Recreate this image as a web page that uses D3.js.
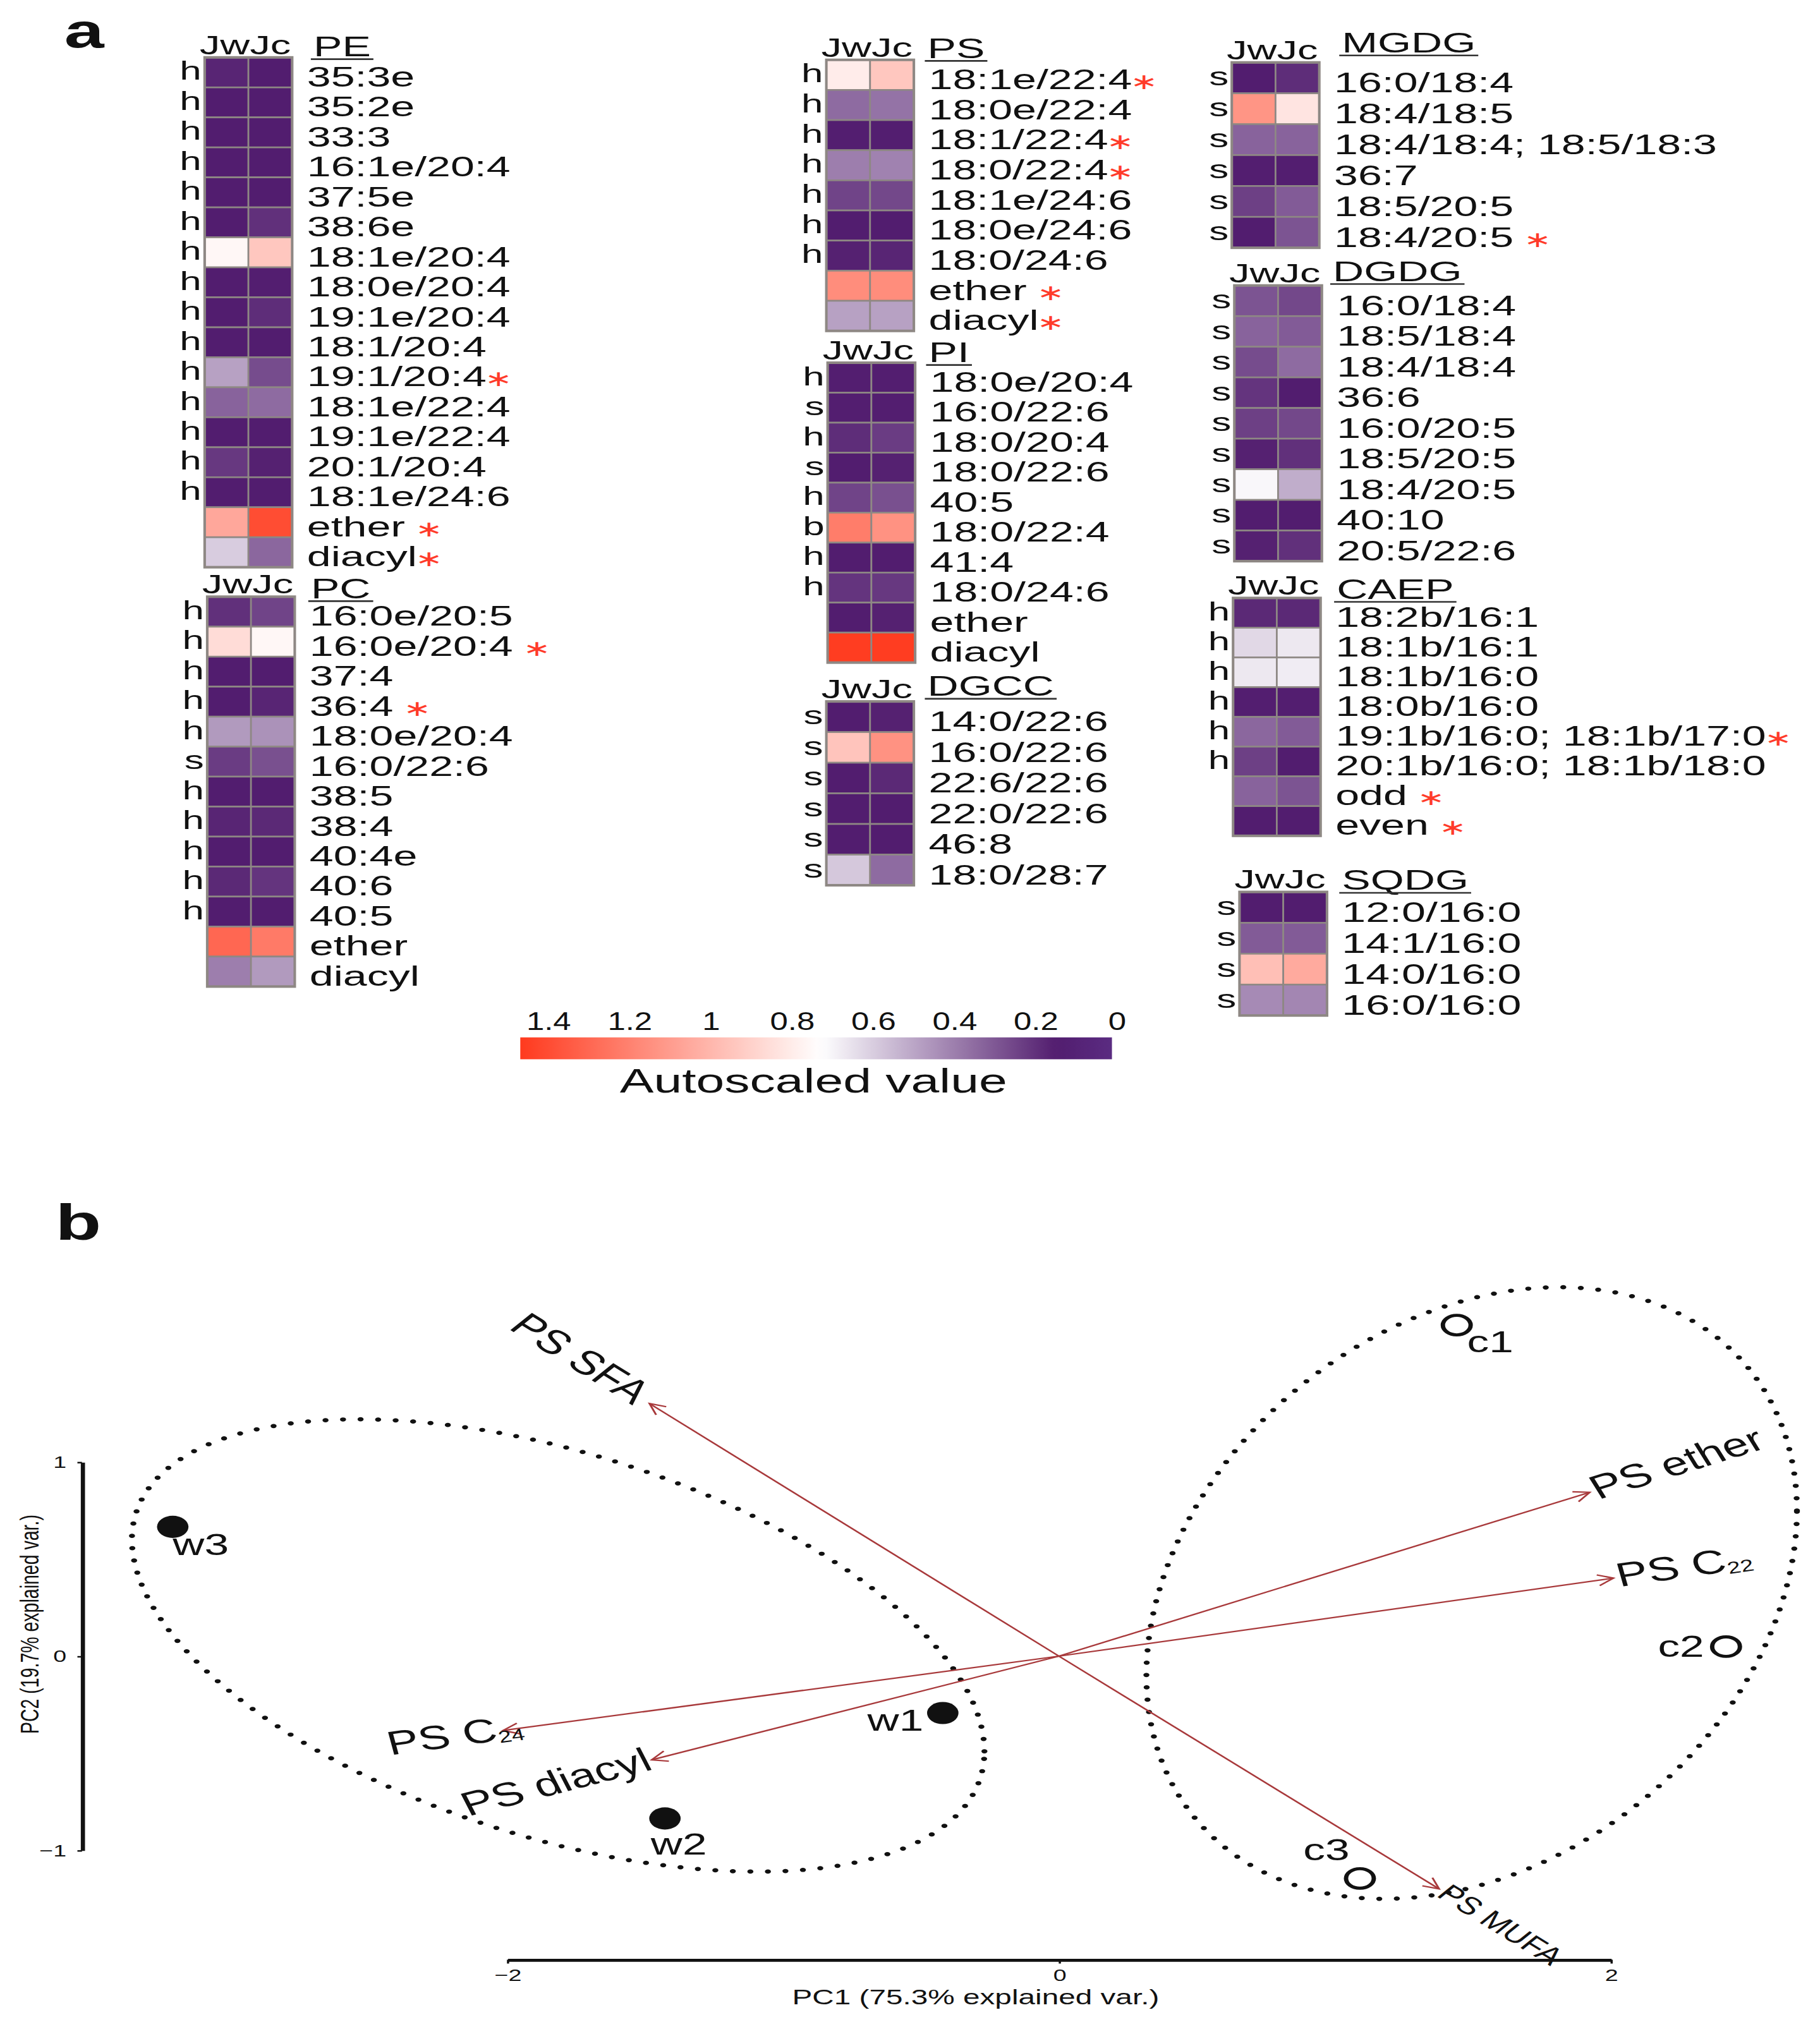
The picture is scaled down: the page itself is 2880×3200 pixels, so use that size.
<!DOCTYPE html>
<html>
<head>
<meta charset="utf-8">
<script src="https://cdn.jsdelivr.net/npm/d3@7"></script>
<style>
  html, body { margin: 0; padding: 0; background: #fff; }
  svg { display: block; }
  text { font-family: "Liberation Sans", Arial, sans-serif; fill: #111; }
</style>
</head>
<body>
<svg id="fig"></svg>
<script>
// ---------------- data: heat map (autoscaled values, Jw / Jc) ----------------
var samples = ["Jw", "Jc"];

var peLipids = ["35:3e", "35:2e", "33:3", "16:1e/20:4", "37:5e", "38:6e", "18:1e/20:4", "18:0e/20:4",
  "19:1e/20:4", "18:1/20:4", "19:1/20:4*", "18:1e/22:4", "19:1e/22:4", "20:1/20:4", "18:1e/24:6", "ether *", "diacyl*"];
var peTags = ["h", "h", "h", "h", "h", "h", "h", "h", "h", "h", "h", "h", "h", "h", "h", "", ""];
var peJw = [0.17, 0.15, 0.15, 0.15, 0.15, 0.15, 0.76, 0.15, 0.15, 0.15, 0.49, 0.33, 0.15, 0.22, 0.15, 1.06, 0.60];
var peJc = [0.15, 0.15, 0.15, 0.15, 0.15, 0.20, 0.94, 0.14, 0.19, 0.15, 0.27, 0.35, 0.15, 0.16, 0.15, 1.40, 0.34];

var pcLipids = ["16:0e/20:5", "16:0e/20:4 *", "37:4", "36:4 *", "18:0e/20:4", "16:0/22:6", "38:5", "38:4",
  "40:4e", "40:6", "40:5", "ether", "diacyl"];
var pcTags = ["h", "h", "h", "h", "h", "s", "h", "h", "h", "h", "h", "", ""];
var pcJw = [0.20, 0.86, 0.15, 0.15, 0.47, 0.23, 0.15, 0.17, 0.15, 0.18, 0.15, 1.30, 0.40];
var pcJc = [0.25, 0.76, 0.15, 0.17, 0.45, 0.28, 0.15, 0.18, 0.15, 0.21, 0.15, 1.23, 0.47];

var psLipids = ["18:1e/22:4*", "18:0e/22:4", "18:1/22:4*", "18:0/22:4*", "18:1e/24:6", "18:0e/24:6", "18:0/24:6", "ether *", "diacyl*"];
var psTags = ["h", "h", "h", "h", "h", "h", "h", "", ""];
var psJw = [0.80, 0.35, 0.14, 0.40, 0.25, 0.15, 0.16, 1.16, 0.49];
var psJc = [0.94, 0.37, 0.14, 0.41, 0.26, 0.15, 0.17, 1.16, 0.49];

var piLipids = ["18:0e/20:4", "16:0/22:6", "18:0/20:4", "18:0/22:6", "40:5", "18:0/22:4", "41:4", "18:0/24:6", "ether", "diacyl"];
var piTags = ["h", "s", "h", "s", "h", "b", "h", "h", "", ""];
var piJw = [0.14, 0.14, 0.19, 0.15, 0.25, 1.22, 0.15, 0.21, 0.15, 1.46];
var piJc = [0.14, 0.14, 0.23, 0.16, 0.28, 1.14, 0.15, 0.22, 0.16, 1.46];

var dgccLipids = ["14:0/22:6", "16:0/22:6", "22:6/22:6", "22:0/22:6", "46:8", "18:0/28:7"];
var dgccTags = ["s", "s", "s", "s", "s", "s"];
var dgccJw = [0.15, 0.95, 0.15, 0.15, 0.15, 0.59];
var dgccJc = [0.16, 1.14, 0.18, 0.15, 0.15, 0.35];

var mgdgLipids = ["16:0/18:4", "18:4/18:5", "18:4/18:4; 18:5/18:3", "36:7", "18:5/20:5", "18:4/20:5 *"];
var mgdgTags = ["s", "s", "s", "s", "s", "s"];
var mgdgJw = [0.15, 1.13, 0.33, 0.14, 0.24, 0.15];
var mgdgJc = [0.19, 0.83, 0.33, 0.14, 0.31, 0.29];

var dgdgLipids = ["16:0/18:4", "18:5/18:4", "18:4/18:4", "36:6", "16:0/20:5", "18:5/20:5", "18:4/20:5", "40:10", "20:5/22:6"];
var dgdgTags = ["s", "s", "s", "s", "s", "s", "s", "s", "s"];
var dgdgJw = [0.29, 0.33, 0.27, 0.21, 0.24, 0.16, 0.71, 0.15, 0.16];
var dgdgJc = [0.26, 0.31, 0.35, 0.15, 0.26, 0.20, 0.52, 0.15, 0.20];

var caepLipids = ["18:2b/16:1", "18:1b/16:1", "18:1b/16:0", "18:0b/16:0", "19:1b/16:0; 18:1b/17:0*",
  "20:1b/16:0; 18:1b/18:0", "odd *", "even *"];
var caepTags = ["h", "h", "h", "h", "h", "h", "", ""];
var caepJw = [0.18, 0.63, 0.67, 0.14, 0.34, 0.24, 0.33, 0.15];
var caepJc = [0.18, 0.67, 0.68, 0.14, 0.31, 0.15, 0.29, 0.15];

var sqdgLipids = ["12:0/16:0", "14:1/16:0", "14:0/16:0", "16:0/16:0"];
var sqdgTags = ["s", "s", "s", "s"];
var sqdgJw = [0.15, 0.31, 0.97, 0.43];
var sqdgJc = [0.15, 0.31, 1.05, 0.42];

// colour key
var keyTicks = [1.4, 1.2, 1, 0.8, 0.6, 0.4, 0.2, 0];
var keyTickLabels = ["1.4", "1.2", "1", "0.8", "0.6", "0.4", "0.2", "0"];
var keyExtent = [0.013, 1.47];

// ---------------- data: PCA biplot ----------------
var scoreNames = ["w1", "w2", "w3", "c1", "c2", "c3"];
var scoreGroup = ["w", "w", "w", "c", "c", "c"];
var scorePC1 = [-0.421, -1.428, -3.212, 1.442, 2.418, 1.091];
var scorePC2 = [-0.293, -0.836, 0.666, 1.705, 0.049, -1.145];

var loadingNames = ["PS SFA", "PS MUFA", "PS ether", "PS C|22", "PS C|24", "PS diacyl"];
var loadingPC1 = [-1.484, 1.378, 1.924, 2.010, -2.015, -1.476];
var loadingPC2 = [1.301, -1.199, 0.844, 0.402, -0.383, -0.534];

var ellipseGroups = ["w", "c"];
var ellipseCentre = [[-1.815, 0.055], [1.496, 0.325]];
var ellipseCov = [[2.387, -0.842, 1.357], [1.390, 0.501, 2.481]];   // sxx, sxy, syy

var pcTicks = [-2, 0, 2];
var pc2Ticks = [-1, 0, 1];

// ---------------- layout ----------------
var W = 1414, H = 1571;
var SA = 1.52;     // the heat map lettering is drawn wide
var SB = 1.42;     // the biplot is drawn wide
var cellW = 34;

var svg = d3.select("#fig")
  .attr("width", 2880).attr("height", 3200)
  .attr("viewBox", "0 0 " + W + " " + H)
  .attr("preserveAspectRatio", "none");

var color = d3.scaleLinear()
  .domain([0, 0.15, 0.73, 1.47])
  .range(["#5b2d83", "#521d6f", "#ffffff", "#ff3a1e"])
  .clamp(true);

function wideText(g, x, y, s, size) {
  return g.append("text")
    .attr("transform", "translate(" + x + "," + y + ") scale(" + s + ",1)")
    .attr("font-size", size)
    .style("white-space", "pre");
}

var blocks = [
  {name: "PE", lipids: peLipids, tags: peTags, jw: peJw, jc: peJc, x: 159, top: 44.6, rowH: 23.3, tdx: 5, tdy: -0.9},
  {name: "PC", lipids: pcLipids, tags: pcTags, jw: pcJw, jc: pcJc, x: 161, top: 463.6, rowH: 23.3, tdx: 1, tdy: 1.2},
  {name: "PS", lipids: psLipids, tags: psTags, jw: psJw, jc: psJc, x: 642, top: 46.5, rowH: 23.4, tdx: -1, tdy: -1.5},
  {name: "PI", lipids: piLipids, tags: piTags, jw: piJw, jc: piJc, x: 643, top: 281.8, rowH: 23.3, tdx: -1, tdy: -0.5},
  {name: "DGCC", lipids: dgccLipids, tags: dgccTags, jw: dgccJw, jc: dgccJc, x: 642, top: 545, rowH: 23.8, tdx: -1, tdy: -4.4},
  {name: "MGDG", lipids: mgdgLipids, tags: mgdgTags, jw: mgdgJw, jc: mgdgJc, x: 957, top: 48.5, rowH: 24, tdx: 6, tdy: -7.7},
  {name: "DGDG", lipids: dgdgLipids, tags: dgdgTags, jw: dgdgJw, jc: dgdgJc, x: 959, top: 221.8, rowH: 23.8, tdx: -3, tdy: -3.4},
  {name: "CAEP", lipids: caepLipids, tags: caepTags, jw: caepJw, jc: caepJc, x: 958, top: 464.6, rowH: 23.1, tdx: 1, tdy: 0.7},
  {name: "SQDG", lipids: sqdgLipids, tags: sqdgTags, jw: sqdgJw, jc: sqdgJc, x: 963, top: 693, rowH: 24, tdx: 0, tdy: -1.6}
];

// ---------------- panel a ----------------
var gA = svg.append("g");
wideText(gA, 50, 36.6, 1.5, 37).attr("font-weight", "bold").text("a");

blocks.forEach(function(b) {
  var n = b.lipids.length;
  var y = d3.scaleBand().domain(d3.range(n)).range([b.top, b.top + n * b.rowH]);
  var x = d3.scaleBand().domain(samples).range([b.x, b.x + 2 * cellW]);
  var g = gA.append("g").attr("class", "block " + b.name);

  var cells = [];
  b.lipids.forEach(function(lab, i) {
    cells.push({i: i, s: "Jw", v: b.jw[i]});
    cells.push({i: i, s: "Jc", v: b.jc[i]});
  });

  g.selectAll("rect.cell").data(cells).join("rect")
    .attr("class", "cell")
    .attr("x", function(d) { return x(d.s); })
    .attr("y", function(d) { return y(d.i); })
    .attr("width", x.bandwidth())
    .attr("height", y.bandwidth())
    .attr("fill", function(d) { return color(d.v); })
    .attr("stroke", "#8e8884")
    .attr("stroke-width", 1.3);

  g.append("rect")
    .attr("x", b.x).attr("y", b.top)
    .attr("width", 2 * cellW).attr("height", n * b.rowH)
    .attr("fill", "none").attr("stroke", "#8e8884").attr("stroke-width", 2);

  // sample header
  wideText(g, b.x - 4, b.top - 2.5, SA, 21).text(samples.join(""));

  var labelX = b.x + 2 * cellW + 11.5;

  // class title, underlined
  var title = wideText(g, labelX + b.tdx, b.top + b.tdy, SA, 22).text(b.name);
  var tw = title.node().getComputedTextLength() * SA;
  g.append("line")
    .attr("x1", labelX + b.tdx - 2).attr("x2", labelX + b.tdx + tw + 2)
    .attr("y1", b.top + b.tdy + 2.3).attr("y2", b.top + b.tdy + 2.3)
    .attr("stroke", "#333").attr("stroke-width", 1.3);

  // h / s / b tags
  b.tags.forEach(function(t, i) {
    if (!t) return;
    wideText(g, b.x - 2.5, y(i) + b.rowH * 0.75, SA, 20)
      .attr("text-anchor", "end").text(t);
  });

  // species labels, significant ones with a red asterisk
  b.lipids.forEach(function(lab, i) {
    var star = lab.slice(-1) === "*";
    var t = wideText(g, labelX, y(i) + b.rowH - 0.7, SA, 22);
    t.append("tspan").text(star ? lab.slice(0, -1) : lab);
    if (star) {
      t.append("tspan").attr("fill", "#ff3b2a")
        .attr("font-family", "DejaVu Sans, sans-serif").attr("font-size", 17)
        .attr("dx", -1)
        .text("\u2217");
    }
  });
});

// colour key
var keyX = d3.scaleLinear().domain([0, 1.4]).range([868, 426.3]);
var defs = svg.append("defs");
var grad = defs.append("linearGradient").attr("id", "keygrad")
  .attr("x1", "0%").attr("x2", "100%").attr("y1", "0%").attr("y2", "0%");
d3.range(0, 61).forEach(function(k) {
  var v = keyExtent[1] - (k / 60) * (keyExtent[1] - keyExtent[0]);
  grad.append("stop").attr("offset", (k / 60 * 100) + "%").attr("stop-color", color(v));
});
gA.append("rect")
  .attr("x", keyX(keyExtent[1])).attr("y", 806)
  .attr("width", keyX(keyExtent[0]) - keyX(keyExtent[1])).attr("height", 17)
  .attr("fill", "url(#keygrad)");
keyTicks.forEach(function(v, i) {
  wideText(gA, keyX(v), 800, 1.25, 20).attr("text-anchor", "middle").text(keyTickLabels[i]);
});
wideText(gA, 632, 849, 1.52, 26).attr("text-anchor", "middle").text("Autoscaled value");

// ---------------- panel b ----------------
wideText(svg, 43, 963, 1.5, 39).attr("font-weight", "bold").text("b");

var gB = svg.append("g").attr("transform", "scale(" + SB + ",1)");
var xB = d3.scaleLinear().domain([-2, 2]).range([394 / SB, 1251.4 / SB]);
var yB = d3.scaleLinear().domain([-1, 1]).range([1437.6, 1135.9]);

var arrowCol = "#a8393b";
defs.append("marker").attr("id", "head")
  .attr("viewBox", "-10 -6 12 12").attr("refX", 0).attr("refY", 0)
  .attr("markerWidth", 12).attr("markerHeight", 12)
  .attr("markerUnits", "userSpaceOnUse").attr("orient", "auto")
  .append("path").attr("d", "M-8.5,-4.2L0,0L-8.5,4.2")
  .attr("fill", "none").attr("stroke", arrowCol).attr("stroke-width", 1.1);

// group ellipses
var ellLine = d3.line().x(function(d) { return xB(d[0]); }).y(function(d) { return yB(d[1]); })
  .curve(d3.curveLinearClosed);
ellipseGroups.forEach(function(grp, k) {
  var c = ellipseCentre[k], S = ellipseCov[k];
  var l11 = Math.sqrt(S[0]), l21 = S[1] / l11, l22 = Math.sqrt(S[2] - l21 * l21);
  var pts = d3.range(0, 360, 1).map(function(a) {
    var t = a * Math.PI / 180;
    return [c[0] + l11 * Math.cos(t), c[1] + l21 * Math.cos(t) + l22 * Math.sin(t)];
  });
  gB.append("path").attr("d", ellLine(pts))
    .attr("fill", "none").attr("stroke", "#111").attr("stroke-width", 3.3)
    .attr("stroke-linecap", "round").attr("stroke-dasharray", "0 9.6");
});

// loadings
var loadingGap = {"PS SFA": -6, "PS MUFA": 2, "PS ether": 2, "PS C|22": 2, "PS C|24": 11, "PS diacyl": -1};
loadingNames.forEach(function(name, i) {
  var px = loadingPC1[i], py = loadingPC2[i];
  gB.append("line")
    .attr("x1", xB(0)).attr("y1", yB(0))
    .attr("x2", xB(px)).attr("y2", yB(py))
    .attr("stroke", arrowCol).attr("stroke-width", 1.1)
    .attr("marker-end", "url(#head)");

  var rot = -Math.atan(py / px) * 180 / Math.PI;
  var small = name === "PS MUFA";
  var t = gB.append("text")
    .attr("transform", "translate(" + xB(px) + "," + yB(py) + ") rotate(" + rot + ")")
    .attr("x", loadingGap[name])
    .attr("dy", "0.28em")
    .attr("text-anchor", px > 0 ? "start" : "end")
    .attr("font-size", small ? 19 : 26);
  var parts = name.split("|");
  t.append("tspan").text(parts[0]);
  if (parts[1]) t.append("tspan").attr("font-size", 13).attr("dy", 2).text(parts[1]);
});

// scores
var labelOffset = {w1: [-15, 13.6, "end"], w2: [-11, 28, "start"], w3: [0, 22, "start"],
                   c1: [8, 21, "start"], c2: [-17, 8, "end"], c3: [-8, -14, "end"]};
scoreNames.forEach(function(name, i) {
  var cx = xB(scorePC1[i]), cy = yB(scorePC2[i]);
  if (scoreGroup[i] === "w") {
    gB.append("circle").attr("cx", cx).attr("cy", cy).attr("r", 8.6).attr("fill", "#111");
  } else {
    gB.append("circle").attr("cx", cx).attr("cy", cy).attr("r", 7.6)
      .attr("fill", "none").attr("stroke", "#111").attr("stroke-width", 2.4);
  }
  var o = labelOffset[name];
  gB.append("text").attr("x", cx + o[0] / SB).attr("y", cy + o[1])
    .attr("text-anchor", o[2]).attr("font-size", 24).text(name);
});

// axes
var axX = gB.append("g").attr("transform", "translate(0,1522.6)")
  .call(d3.axisBottom(xB).tickValues(pcTicks).tickSize(3).tickSizeOuter(0).tickPadding(4.5).tickFormat(d3.format("d")));
var axY = gB.append("g").attr("transform", "translate(" + (63.7 / SB) + ",0)")
  .call(d3.axisLeft(yB).tickValues(pc2Ticks).tickSize(2.5).tickSizeOuter(0).tickPadding(6).tickFormat(d3.format("d")));
[axX, axY].forEach(function(ax) {
  ax.select(".domain").attr("stroke", "#111").attr("stroke-width", 2.3);
  ax.selectAll(".tick line").attr("stroke", "#111").attr("stroke-width", 1.2);
  ax.selectAll(".tick text").attr("font-size", 13).attr("fill", "#555")
    .attr("font-family", "Liberation Sans, Arial, sans-serif");
});

gB.append("text").attr("x", 758 / SB).attr("y", 1557.5)
  .attr("text-anchor", "middle").attr("font-size", 16.5).text("PC1 (75.3% explained var.)");
gB.append("text")
  .attr("transform", "translate(" + (30 / SB) + ",1262) rotate(-90)")
  .attr("text-anchor", "middle").attr("font-size", 14).text("PC2 (19.7% explained var.)");
</script>
</body>
</html>
